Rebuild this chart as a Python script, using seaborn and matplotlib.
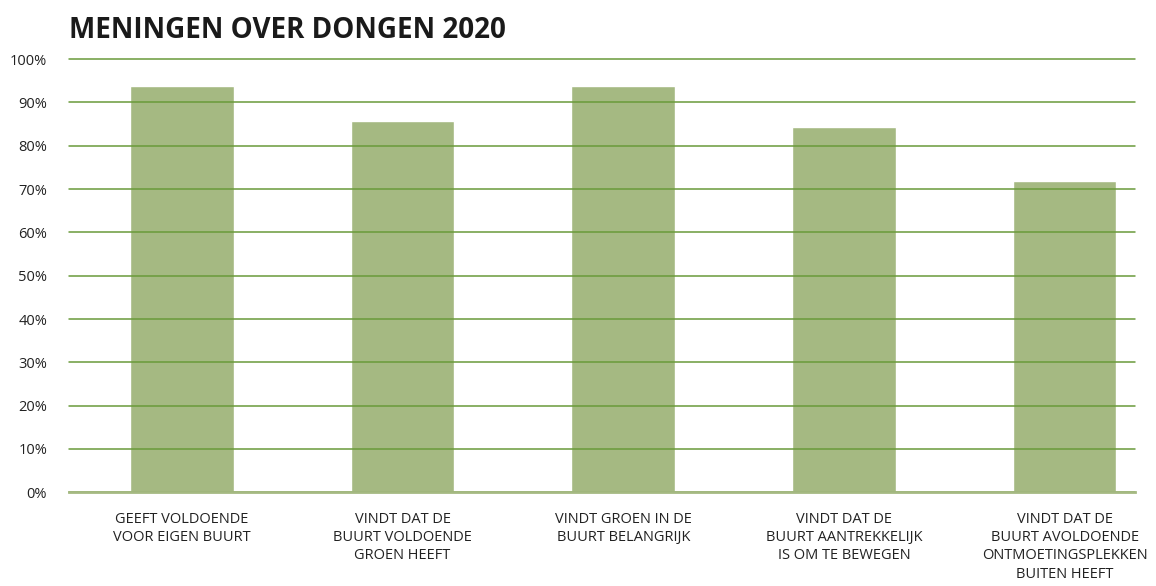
import numpy as np
import pandas as pd
import seaborn as sns
import matplotlib.pyplot as plt

sns.set_theme(style="white")
plt.rcParams['font.family'] = ['Open Sans', 'DejaVu Sans']

# data
categories = [
    "GEEFT VOLDOENDE\nVOOR EIGEN BUURT",
    "VINDT DAT DE\nBUURT VOLDOENDE\nGROEN HEEFT",
    "VINDT GROEN IN DE\nBUURT BELANGRIJK",
    "VINDT DAT DE\nBUURT AANTREKKELIJK\nIS OM TE BEWEGEN",
    "VINDT DAT DE\nBUURT AVOLDOENDE\nONTMOETINGSPLEKKEN\nBUITEN HEEFT",
]
values = [93.8, 85.7, 93.8, 84.3, 71.8]
yticks = [0, 10, 20, 30, 40, 50, 60, 70, 80, 90, 100]
ytick_labels = [f"{t}%" for t in yticks]

df = pd.DataFrame({"cat": categories, "val": values})

bar_color = "#a5b982"
grid_color = "#6a9a3a"

fig, ax = plt.subplots(figsize=(11.56, 5.86), dpi=100)
fig.subplots_adjust(left=0.06, right=0.982, top=0.899, bottom=0.16)

sns.barplot(data=df, x="cat", y="val", color=bar_color, saturation=1, width=0.47, ax=ax)

ax.set_xlim(-0.51, 4.32)
ax.set_ylim(0, 100)
ax.set_yticks(yticks)
ax.set_yticklabels(ytick_labels)
ax.set_axisbelow(False)
ax.yaxis.grid(True, color=grid_color, linewidth=1.1)
for gl in ax.get_ygridlines():
    gl.set_clip_on(False)
ax.xaxis.grid(False)
ax.tick_params(axis='both', length=0, colors="#222222")
ax.tick_params(axis='y', pad=16, labelsize=10.5)
ax.tick_params(axis='x', pad=14, labelsize=10.5)
for lab in ax.get_xticklabels():
    lab.set_linespacing(1.3)
ax.set_xlabel("")
ax.set_ylabel("")

for s in ["top", "left", "right"]:
    ax.spines[s].set_visible(False)
ax.spines["bottom"].set_color(bar_color)
ax.spines["bottom"].set_linewidth(2)
ax.spines["bottom"].set_zorder(3)

fig.text(0.06, 0.948, "MENINGEN OVER DONGEN 2020", fontsize=20, fontweight='bold',
         color="#1a1a1a", ha='left', va='center')

fig.savefig("out.png", dpi=100)
